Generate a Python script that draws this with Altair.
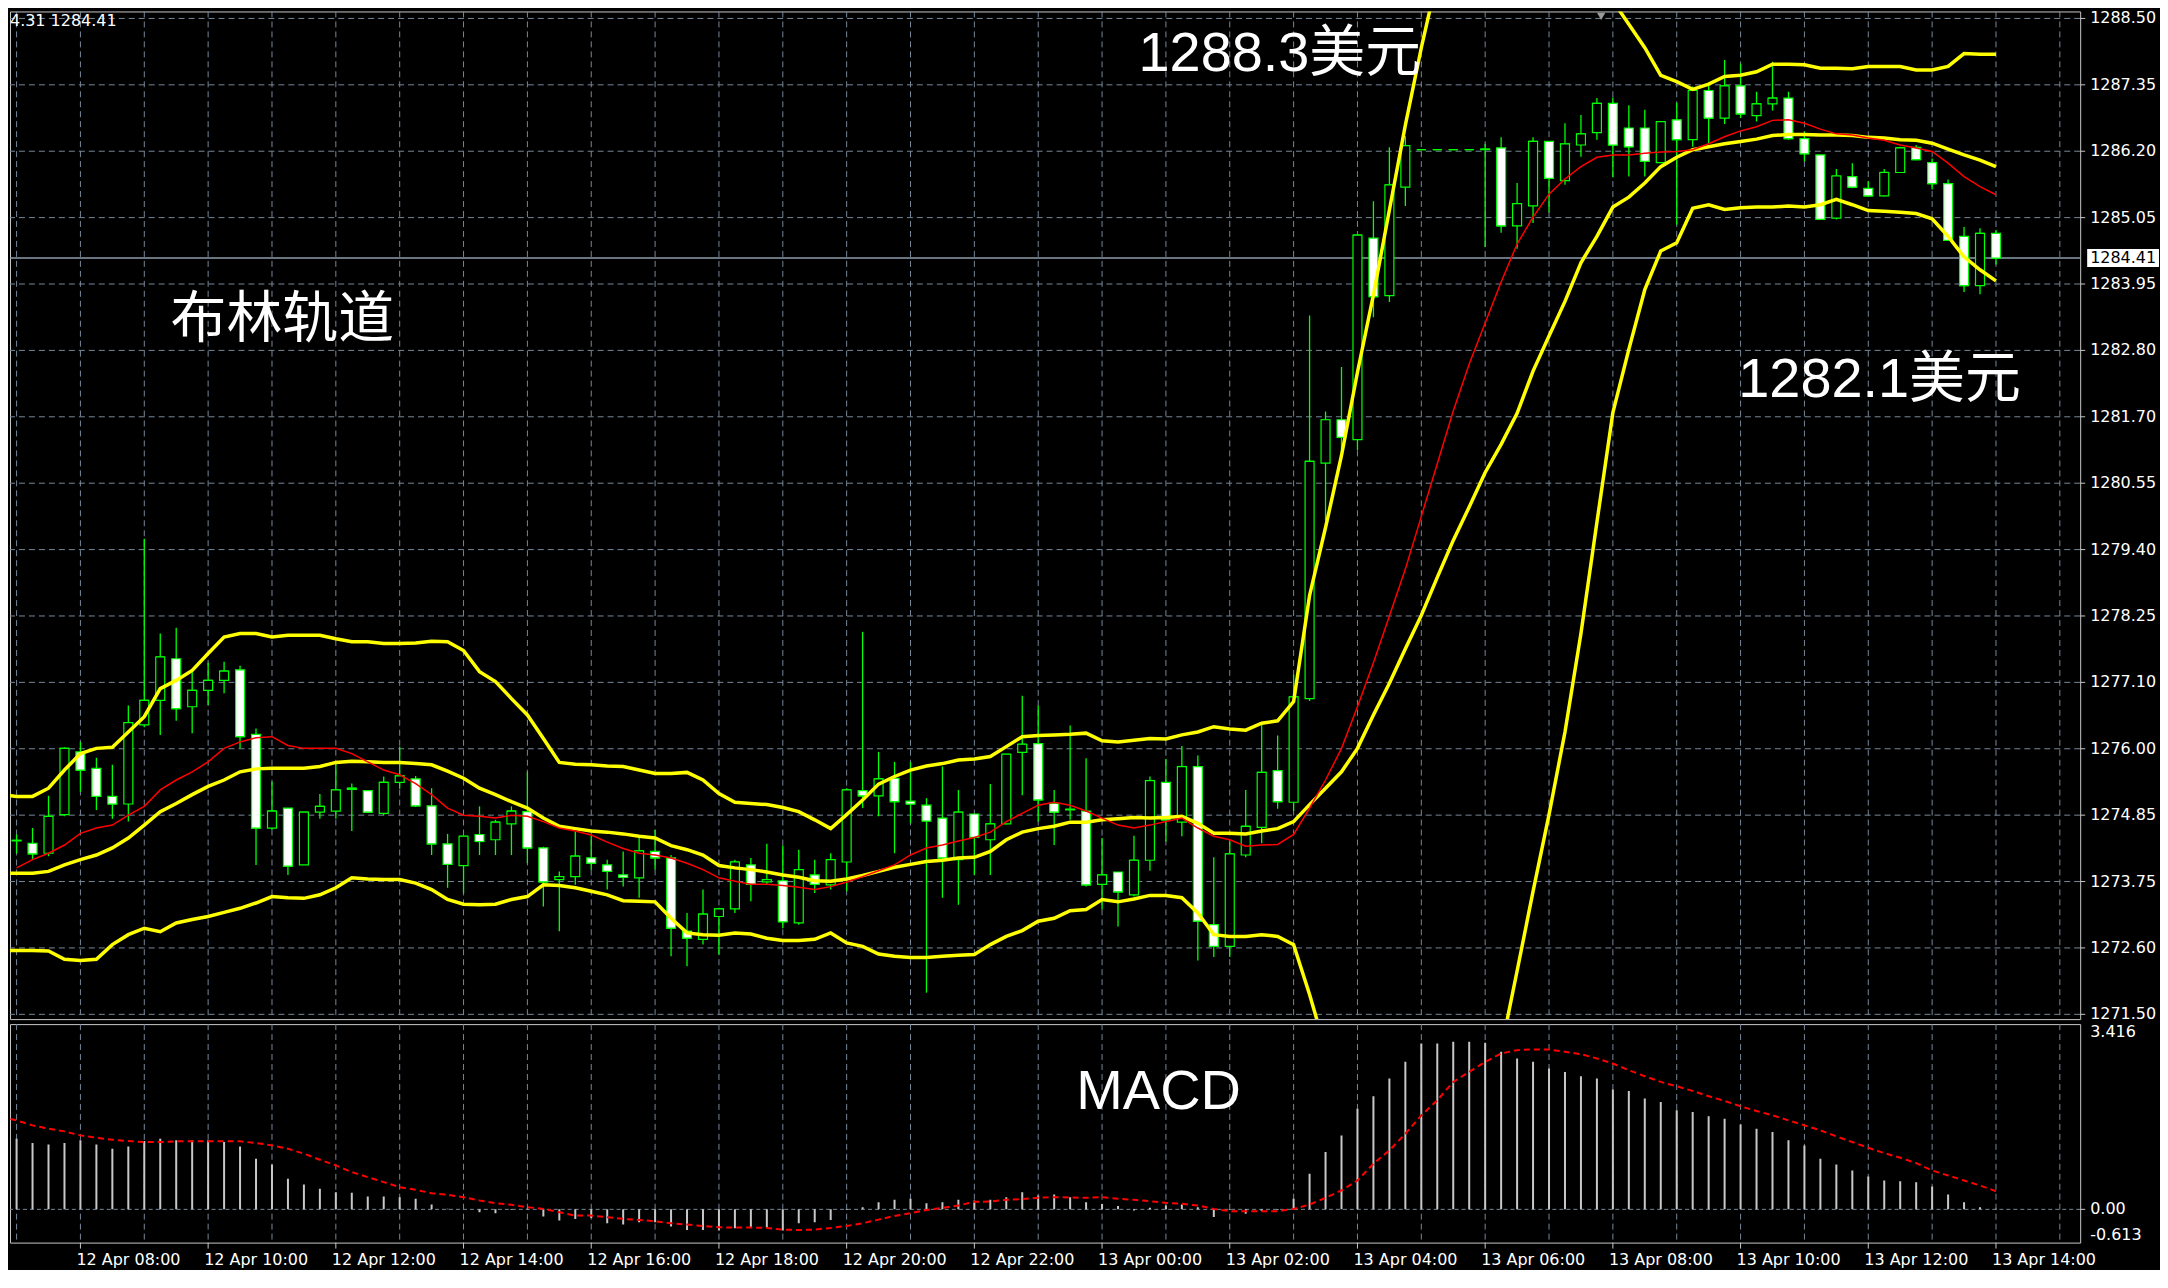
import altair as alt
import pandas as pd

# ---------------- data (XAUUSD, M15) ----------------
first_bar = "2017-04-12 06:45"
bar_minutes = 15

open_ = [
    1274.75, 1274.46, 1274.42, 1274.25, 1274.91, 1275.98, 1275.70, 1275.22, 1275.09, 1276.44,
    1276.86, 1277.57, 1276.75, 1277.03, 1277.20, 1277.38, 1276.28, 1274.68, 1275.02, 1274.05,
    1274.95, 1274.97, 1275.34, 1275.32, 1274.93, 1275.46, 1275.52, 1275.06, 1274.41, 1274.04,
    1274.57, 1274.48, 1274.75, 1274.96, 1274.34, 1273.80, 1273.85, 1274.17, 1274.05, 1273.88,
    1273.83, 1274.28, 1274.17, 1272.92, 1272.78, 1273.17, 1273.30, 1274.05, 1273.76, 1273.78,
    1273.06, 1273.88, 1273.71, 1274.10, 1275.32, 1275.23, 1275.53, 1275.14, 1275.07, 1274.85,
    1274.14, 1274.92, 1274.48, 1274.75, 1275.97, 1276.12, 1275.10, 1274.99, 1274.97, 1273.72,
    1273.93, 1273.54, 1274.13, 1275.46, 1274.78, 1275.73, 1273.03, 1272.66, 1274.22, 1274.69,
    1275.66, 1275.12, 1276.89, 1280.91, 1281.65, 1281.31, 1284.75, 1283.77, 1285.62, 1286.26,
    1286.26, 1286.26, 1286.26, 1286.26, 1286.29, 1284.96, 1285.30, 1286.40, 1285.73, 1286.34,
    1286.55, 1287.05, 1286.63, 1286.63, 1286.04, 1286.77, 1286.43, 1287.27, 1286.80, 1287.35,
    1286.84, 1287.04, 1287.14, 1286.45, 1286.17, 1285.09, 1285.80, 1285.60, 1285.47, 1285.87,
    1286.30, 1286.04, 1285.68, 1284.78, 1283.94, 1284.83,
]
high_ = [
    1274.85, 1274.57, 1274.68, 1275.23, 1276.06, 1276.15, 1275.88, 1275.76, 1276.77, 1279.62,
    1278.00, 1278.10, 1277.35, 1277.50, 1277.52, 1277.45, 1276.38, 1275.47, 1275.02, 1274.95,
    1275.26, 1275.79, 1275.44, 1275.32, 1275.56, 1276.07, 1275.57, 1275.36, 1274.58, 1274.55,
    1275.05, 1274.82, 1275.05, 1275.64, 1274.36, 1273.94, 1274.62, 1274.56, 1274.14, 1274.28,
    1274.51, 1274.65, 1274.22, 1273.23, 1273.63, 1273.32, 1274.14, 1274.17, 1274.41, 1274.38,
    1274.31, 1274.14, 1274.25, 1275.36, 1278.03, 1275.98, 1275.81, 1275.81, 1275.19, 1275.73,
    1275.33, 1274.92, 1275.43, 1275.94, 1276.94, 1276.77, 1275.33, 1276.43, 1275.87, 1274.51,
    1273.93, 1274.55, 1275.56, 1275.86, 1276.08, 1275.92, 1274.18, 1274.45, 1275.33, 1276.44,
    1276.26, 1277.30, 1283.43, 1281.79, 1282.55, 1284.80, 1285.38, 1286.30, 1286.49, 1286.26,
    1286.26, 1286.26, 1286.26, 1286.36, 1286.47, 1285.69, 1286.47, 1286.40, 1286.71, 1286.85,
    1287.14, 1287.15, 1287.02, 1286.94, 1286.74, 1287.06, 1287.34, 1287.39, 1287.79, 1287.73,
    1287.25, 1287.76, 1287.25, 1286.57, 1286.17, 1285.93, 1286.03, 1285.72, 1285.93, 1286.31,
    1286.34, 1286.11, 1285.75, 1284.94, 1284.92, 1284.89,
]
low_ = [
    1274.35, 1274.25, 1274.14, 1274.20, 1274.88, 1275.30, 1274.99, 1274.84, 1274.79, 1276.40,
    1276.27, 1276.51, 1276.30, 1276.78, 1276.98, 1276.04, 1274.05, 1274.65, 1273.88, 1274.05,
    1274.84, 1274.84, 1274.63, 1274.95, 1274.90, 1275.35, 1275.04, 1274.22, 1273.66, 1273.57,
    1274.22, 1274.22, 1274.22, 1274.08, 1273.34, 1272.92, 1273.71, 1273.97, 1273.63, 1273.68,
    1273.49, 1273.97, 1272.49, 1272.32, 1272.69, 1272.52, 1273.23, 1273.43, 1273.71, 1272.97,
    1273.03, 1273.57, 1273.63, 1273.60, 1275.02, 1274.88, 1274.25, 1274.76, 1271.87, 1273.49,
    1273.37, 1273.88, 1273.88, 1274.74, 1275.24, 1274.79, 1274.39, 1274.82, 1273.68, 1273.29,
    1273.00, 1273.51, 1273.95, 1274.45, 1274.54, 1272.42, 1272.48, 1272.48, 1274.18, 1274.42,
    1275.01, 1274.97, 1276.85, 1279.93, 1281.07, 1281.13, 1283.40, 1283.66, 1285.30, 1286.26,
    1286.26, 1286.26, 1286.26, 1284.60, 1284.84, 1284.57, 1285.01, 1285.19, 1285.66, 1286.14,
    1286.43, 1285.79, 1285.80, 1285.80, 1286.03, 1284.98, 1286.31, 1286.37, 1286.70, 1286.80,
    1286.74, 1286.93, 1286.43, 1286.06, 1285.06, 1285.07, 1285.60, 1285.46, 1285.46, 1285.86,
    1286.08, 1285.58, 1284.71, 1283.83, 1283.79, 1284.30,
]
close_ = [
    1274.42, 1274.47, 1274.24, 1274.88, 1276.04, 1275.67, 1275.22, 1275.09, 1276.48, 1276.86,
    1277.60, 1276.72, 1277.03, 1277.20, 1277.36, 1276.24, 1274.68, 1274.97, 1274.03, 1274.95,
    1275.05, 1275.33, 1275.36, 1274.95, 1275.46, 1275.57, 1275.06, 1274.41, 1274.06, 1274.54,
    1274.45, 1274.78, 1274.97, 1274.34, 1273.76, 1273.85, 1274.20, 1274.08, 1273.94, 1273.84,
    1274.29, 1274.17, 1272.97, 1272.80, 1273.21, 1273.30, 1274.10, 1273.72, 1273.80, 1273.08,
    1273.97, 1273.72, 1274.14, 1275.33, 1275.23, 1275.52, 1275.13, 1275.09, 1274.80, 1274.17,
    1274.95, 1274.52, 1274.75, 1275.94, 1276.11, 1275.16, 1274.95, 1275.00, 1273.71, 1273.88,
    1273.59, 1274.13, 1275.49, 1274.82, 1275.73, 1273.09, 1272.66, 1274.24, 1274.71, 1275.63,
    1275.13, 1276.92, 1280.94, 1281.65, 1281.35, 1284.80, 1283.75, 1285.66, 1286.33, 1286.26,
    1286.26, 1286.26, 1286.26, 1286.27, 1284.96, 1285.34, 1286.40, 1285.77, 1286.36, 1286.53,
    1287.05, 1286.34, 1286.31, 1286.06, 1286.74, 1286.43, 1287.27, 1286.80, 1287.35, 1286.87,
    1287.04, 1287.14, 1286.45, 1286.19, 1285.07, 1285.81, 1285.62, 1285.47, 1285.87, 1286.29,
    1286.09, 1285.68, 1284.71, 1283.94, 1284.83, 1284.41,
]
bb_upper = [
    1275.25, 1275.22, 1275.22, 1275.36, 1275.67, 1275.95, 1276.04, 1276.06, 1276.32, 1276.58,
    1277.06, 1277.20, 1277.37, 1277.66, 1277.94, 1278.00, 1278.00, 1277.94, 1277.97, 1277.97,
    1277.97, 1277.91, 1277.86, 1277.86, 1277.83, 1277.83, 1277.84, 1277.87, 1277.86, 1277.71,
    1277.35, 1277.18, 1276.89, 1276.61, 1276.21, 1275.80, 1275.77, 1275.76, 1275.74, 1275.73,
    1275.67, 1275.61, 1275.61, 1275.63, 1275.50, 1275.27, 1275.12, 1275.10, 1275.08, 1275.03,
    1274.96, 1274.82, 1274.67, 1274.91, 1275.16, 1275.43, 1275.56, 1275.67, 1275.74, 1275.78,
    1275.84, 1275.86, 1275.90, 1276.07, 1276.24, 1276.26, 1276.27, 1276.28, 1276.30, 1276.17,
    1276.15, 1276.18, 1276.21, 1276.20, 1276.27, 1276.32, 1276.41, 1276.37, 1276.35, 1276.47,
    1276.51, 1276.84, 1278.65, 1279.81, 1281.04, 1282.46, 1283.78, 1285.23, 1286.68, 1288.00,
    1289.20, 1290.00, 1290.60, 1291.10, 1291.50, 1291.30, 1291.35, 1291.25, 1291.00, 1290.65,
    1289.70, 1288.80, 1288.40, 1288.00, 1287.53, 1287.42, 1287.29, 1287.38, 1287.51, 1287.53,
    1287.59, 1287.72, 1287.72, 1287.71, 1287.65, 1287.65, 1287.64, 1287.68, 1287.68, 1287.68,
    1287.62, 1287.62, 1287.68, 1287.90, 1287.89, 1287.89,
]
bb_middle = [
    1273.91, 1273.91, 1273.91, 1273.94, 1274.05, 1274.14, 1274.22, 1274.34, 1274.51, 1274.73,
    1274.96, 1275.10, 1275.25, 1275.39, 1275.50, 1275.64, 1275.69, 1275.70, 1275.70, 1275.70,
    1275.73, 1275.80, 1275.82, 1275.81, 1275.80, 1275.80, 1275.78, 1275.76, 1275.65, 1275.53,
    1275.36, 1275.25, 1275.13, 1275.02, 1274.85, 1274.71, 1274.67, 1274.63, 1274.61, 1274.58,
    1274.54, 1274.51, 1274.38, 1274.31, 1274.22, 1274.04, 1274.00, 1273.97, 1273.93, 1273.88,
    1273.84, 1273.78, 1273.77, 1273.81, 1273.87, 1273.94, 1274.01, 1274.06, 1274.11, 1274.13,
    1274.17, 1274.18, 1274.28, 1274.48, 1274.61, 1274.67, 1274.71, 1274.78, 1274.78, 1274.82,
    1274.84, 1274.86, 1274.85, 1274.86, 1274.88, 1274.76, 1274.59, 1274.59, 1274.58, 1274.63,
    1274.67, 1274.79, 1275.08, 1275.36, 1275.64, 1276.04, 1276.61, 1277.15, 1277.74, 1278.31,
    1278.96, 1279.59, 1280.16, 1280.75, 1281.23, 1281.76, 1282.48, 1283.08, 1283.67, 1284.33,
    1284.78, 1285.28, 1285.45, 1285.69, 1285.97, 1286.13, 1286.26, 1286.31, 1286.36, 1286.40,
    1286.44, 1286.50, 1286.52, 1286.52, 1286.51, 1286.51, 1286.50, 1286.47, 1286.46, 1286.43,
    1286.42, 1286.37, 1286.27, 1286.17, 1286.08, 1285.97,
]
bb_lower = [
    1272.59, 1272.59, 1272.59, 1272.58, 1272.44, 1272.42, 1272.44, 1272.69, 1272.86, 1272.97,
    1272.91, 1273.06, 1273.12, 1273.17, 1273.24, 1273.31, 1273.40, 1273.51, 1273.49, 1273.48,
    1273.54, 1273.66, 1273.83, 1273.81, 1273.80, 1273.80, 1273.74, 1273.63, 1273.46, 1273.38,
    1273.37, 1273.38, 1273.46, 1273.51, 1273.71, 1273.70, 1273.66, 1273.60, 1273.54, 1273.44,
    1273.43, 1273.42, 1273.14, 1272.89, 1272.86, 1272.85, 1272.89, 1272.87, 1272.80, 1272.76,
    1272.76, 1272.78, 1272.89, 1272.72, 1272.66, 1272.53, 1272.49, 1272.47, 1272.47, 1272.49,
    1272.51, 1272.52, 1272.69, 1272.83, 1272.93, 1273.09, 1273.14, 1273.27, 1273.29, 1273.46,
    1273.42, 1273.47, 1273.53, 1273.53, 1273.49, 1273.23, 1272.86, 1272.83, 1272.83, 1272.86,
    1272.83, 1272.69, 1271.84, 1270.90, 1270.20, 1269.60, 1269.40, 1269.10, 1268.80, 1268.60,
    1268.80, 1269.20, 1269.70, 1270.40, 1270.90, 1272.24, 1273.60, 1274.91, 1276.32, 1278.00,
    1279.90, 1281.77, 1282.85, 1283.87, 1284.53, 1284.67, 1285.26, 1285.32, 1285.24, 1285.27,
    1285.28, 1285.28, 1285.30, 1285.28, 1285.32, 1285.41, 1285.32, 1285.22, 1285.21, 1285.19,
    1285.17, 1285.08, 1284.78, 1284.43, 1284.21, 1284.02,
]
ma_red = [
    None, 1274.00, 1274.14, 1274.25, 1274.39, 1274.59, 1274.68, 1274.73, 1274.90, 1275.05,
    1275.33, 1275.50, 1275.64, 1275.81, 1276.04, 1276.15, 1276.22, 1276.24, 1276.09, 1276.04,
    1276.04, 1276.04, 1275.95, 1275.81, 1275.67, 1275.59, 1275.44, 1275.25, 1275.02, 1274.90,
    1274.88, 1274.85, 1274.90, 1274.88, 1274.79, 1274.68, 1274.63, 1274.56, 1274.44, 1274.33,
    1274.25, 1274.22, 1274.17, 1274.08, 1273.97, 1273.83, 1273.77, 1273.72, 1273.72, 1273.70,
    1273.67, 1273.63, 1273.68, 1273.76, 1273.85, 1273.95, 1274.05, 1274.22, 1274.34, 1274.39,
    1274.46, 1274.52, 1274.61, 1274.79, 1274.93, 1275.07, 1275.12, 1275.07, 1274.97, 1274.85,
    1274.73, 1274.68, 1274.73, 1274.79, 1274.85, 1274.68, 1274.54, 1274.48, 1274.37, 1274.39,
    1274.40, 1274.57, 1275.02, 1275.50, 1276.04, 1276.75, 1277.50, 1278.30, 1279.10, 1280.00,
    1280.90, 1281.80, 1282.60, 1283.30, 1284.00, 1284.65, 1285.11, 1285.50, 1285.76, 1285.97,
    1286.13, 1286.17, 1286.17, 1286.20, 1286.22, 1286.23, 1286.26, 1286.36, 1286.48, 1286.58,
    1286.65, 1286.76, 1286.77, 1286.71, 1286.61, 1286.53, 1286.51, 1286.46, 1286.42, 1286.34,
    1286.29, 1286.23, 1286.03, 1285.80, 1285.63, 1285.49,
]
macd_main = [
    1.425, 1.303, 1.223, 1.198, 1.223, 1.272, 1.198, 1.118, 1.161, 1.260,
    1.303, 1.272, 1.272, 1.272, 1.241, 1.161, 0.933, 0.828, 0.564, 0.459,
    0.379, 0.317, 0.305, 0.237, 0.237, 0.225, 0.194, 0.089, 0.009, 0.000,
    -0.053, -0.071, -0.010, 0.010, -0.132, -0.207, -0.176, -0.158, -0.256, -0.281,
    -0.238, -0.238, -0.318, -0.380, -0.380, -0.392, -0.349, -0.330, -0.330, -0.392,
    -0.256, -0.238, -0.195, -0.010, 0.040, 0.132, 0.175, 0.194, 0.114, 0.132,
    0.175, 0.163, 0.175, 0.225, 0.317, 0.255, 0.274, 0.225, 0.132, 0.100,
    0.060, -0.020, 0.030, 0.070, 0.090, 0.040, -0.140, -0.010, -0.080, -0.030,
    -0.010, 0.194, 0.656, 1.056, 1.364, 1.857, 2.085, 2.412, 2.720, 3.059,
    3.059, 3.089, 3.089, 3.071, 2.904, 2.781, 2.720, 2.597, 2.535, 2.455,
    2.412, 2.208, 2.183, 2.042, 1.980, 1.826, 1.795, 1.715, 1.672, 1.567,
    1.487, 1.426, 1.272, 1.179, 0.933, 0.828, 0.717, 0.606, 0.532, 0.520,
    0.501, 0.421, 0.274, 0.132, 0.039, 0.009,
]
macd_signal = [
    1.703, 1.641, 1.549, 1.487, 1.438, 1.364, 1.321, 1.284, 1.260, 1.241,
    1.241, 1.254, 1.254, 1.254, 1.254, 1.254, 1.223, 1.180, 1.118, 1.026,
    0.915, 0.810, 0.687, 0.594, 0.502, 0.410, 0.360, 0.299, 0.268, 0.225,
    0.163, 0.114, 0.083, 0.040, 0.009, -0.053, -0.115, -0.115, -0.145, -0.176,
    -0.195, -0.219, -0.256, -0.281, -0.306, -0.330, -0.336, -0.336, -0.343, -0.373,
    -0.380, -0.373, -0.343, -0.306, -0.256, -0.189, -0.121, -0.071, -0.010, 0.028,
    0.071, 0.139, 0.145, 0.175, 0.188, 0.213, 0.225, 0.219, 0.213, 0.224,
    0.194, 0.175, 0.151, 0.120, 0.102, 0.071, 0.009, -0.034, -0.034, -0.034,
    -0.034, 0.009, 0.089, 0.213, 0.348, 0.532, 0.841, 1.087, 1.395, 1.734,
    2.011, 2.350, 2.535, 2.720, 2.874, 2.936, 2.948, 2.948, 2.905, 2.862,
    2.782, 2.689, 2.566, 2.455, 2.350, 2.270, 2.184, 2.085, 1.999, 1.900,
    1.814, 1.734, 1.641, 1.549, 1.457, 1.346, 1.241, 1.136, 1.038, 0.952,
    0.853, 0.717, 0.625, 0.532, 0.440, 0.335,
]

price_tick_labels = ["1288.50", "1287.35", "1286.20", "1285.05", "1283.95", "1282.80",
                     "1281.70", "1280.55", "1279.40", "1278.25", "1277.10", "1276.00",
                     "1274.85", "1273.75", "1272.60", "1271.50"]
price_grid_top, price_grid_bottom = 1288.50, 1271.50
macd_tick_labels = ["3.416", "0.00", "-0.613"]
macd_max, macd_min = 3.416, -0.613
current_price = 1284.41
current_price_label = "1284.41"
header_text = "4.31 1284.41"

annotation_text = ["布林轨道", "1288.3美元", "1282.1美元"]
annotation_time = ["2017-04-12 09:24:45", "2017-04-13 00:34:15", "2017-04-13 09:57:50"]
annotation_price = [1283.07, 1287.60, 1282.03]
macd_title, macd_title_time, macd_title_value = "MACD", "2017-04-12 23:35:50", 1.85
shift_marker_time = "2017-04-13 07:49:00"

grid_hours = pd.date_range("2017-04-12 07:00", "2017-04-13 15:00", freq="1h")
label_hours = pd.date_range("2017-04-12 08:00", "2017-04-13 14:00", freq="2h")
time_labels = [h.strftime("%d %b %H:%M") for h in label_hours]

# ---------------- layout / style ----------------
W, H_MAIN, H_MACD = 2075, 1010, 219
PX_PER_BAR = 16.0
PX_PER_USD = 998.2 / 17.0
LIME, YELLOW, RED = "#00ff00", "#ffff00", "#ff0000"
GRID = "#778899"
FRAME = "#c8c8c8"
AXFONT = "DejaVu Sans"
AXSIZE = 16
BIGFONT = "Liberation Sans, Noto Sans CJK SC"

for arr in (open_, high_, low_, close_, bb_upper, bb_middle, bb_lower, ma_red, macd_main, macd_signal):
    assert len(arr) == len(close_)


def to_ms(ts):
    return int(pd.Timestamp(ts).value // 1_000_000)


t0 = to_ms(first_bar)
bar_ms = bar_minutes * 60_000
df = pd.DataFrame({
    "t": [t0 + i * bar_ms for i in range(len(close_))],
    "open": open_, "high": high_, "low": low_, "close": close_,
    "bb_up": bb_upper, "bb_mid": bb_middle, "bb_lo": bb_lower,
    "ma": ma_red, "macd": macd_main, "signal": macd_signal,
})
df["zero"] = 0.0

x_start = t0 + 0.5875 * bar_ms
x_end = x_start + (W / PX_PER_BAR) * bar_ms
xs = alt.Scale(type="utc", domain=[x_start, x_end], nice=False)

y_top = price_grid_top + 7.0 / PX_PER_USD
y_bot = y_top - H_MAIN / PX_PER_USD
ys = alt.Scale(domain=[y_bot, y_top], nice=False, zero=False)
ms_scale = alt.Scale(domain=[macd_min, macd_max], nice=False, zero=False)

X = alt.X("t:T", scale=xs, axis=None)


def Yp(field):
    return alt.Y(field, scale=ys, axis=None)


def Ym(field):
    return alt.Y(field, scale=ms_scale, axis=None)


grid_df = pd.DataFrame({"t": [to_ms(h) for h in grid_hours]})
grid_v = alt.Chart(grid_df).mark_rule(color=GRID, strokeWidth=1, strokeDash=[6, 4]).encode(x=X)

# price scale: evenly spaced grid lines, labels as printed on the chart
n_ticks = len(price_tick_labels)
step = (price_grid_top - price_grid_bottom) / (n_ticks - 1)
ptick_df = pd.DataFrame({
    "p": [price_grid_top - k * step for k in range(n_ticks)],
    "label": price_tick_labels,
})
grid_h = alt.Chart(ptick_df).mark_rule(color=GRID, strokeWidth=1, strokeDash=[6, 4]).encode(y=Yp("p:Q"))
p_ticks = alt.Chart(ptick_df).mark_rule(color=FRAME, strokeWidth=1).encode(
    y=Yp("p:Q"), x=alt.value(W), x2=alt.value(W + 5))
p_labels = alt.Chart(ptick_df).mark_text(
    align="left", baseline="middle", font=AXFONT, fontSize=AXSIZE, color="#ffffff"
).encode(x=alt.value(W + 10), y=Yp("p:Q"), text="label:N")

base = alt.Chart(df)

cur_df = pd.DataFrame({"p": [current_price], "label": [current_price_label]})
cur_line = alt.Chart(cur_df).mark_rule(color="#8c9cac", strokeWidth=1.5).encode(y=Yp("p:Q"))

wicks = base.mark_rule(color=LIME, strokeWidth=1.3, clip=True).encode(
    x=X, y=Yp("low:Q"), y2="high:Q")

close_ticks = base.mark_rule(color=LIME, strokeWidth=1.3, xOffset=-4.5, x2Offset=4.5, clip=True).encode(
    x=X, x2="t:T", y=Yp("close:Q"))

bodies = base.mark_rect(stroke=LIME, strokeWidth=1.2, xOffset=-4.5, x2Offset=4.5, clip=True).encode(
    x=X, x2="t:T",
    y=Yp("open:Q"), y2="close:Q",
    fill=alt.condition("datum.close < datum.open", alt.value("#ffffff"), alt.value("#000000")),
)


def band(col, color, width):
    return base.mark_line(color=color, strokeWidth=width, clip=True).encode(x=X, y=Yp(f"{col}:Q"))


upper = band("bb_up", YELLOW, 3.5)
middle = band("bb_mid", YELLOW, 3.5)
lower = band("bb_lo", YELLOW, 3.5)
ma_line = band("ma", RED, 1.5)

ann_df = pd.DataFrame({
    "t": [to_ms(t) for t in annotation_time],
    "p": annotation_price,
    "txt": annotation_text,
})
ann = alt.Chart(ann_df).mark_text(
    align="left", baseline="alphabetic", fontSize=56, font=BIGFONT, color="#ffffff"
).encode(x=X, y=Yp("p:Q"), text="txt:N")

header = alt.Chart(pd.DataFrame({"s": [header_text]})).mark_text(
    align="left", baseline="alphabetic", fontSize=AXSIZE, font=AXFONT, color="#ffffff"
).encode(x=alt.value(0), y=alt.value(15), text="s:N")

marker = alt.Chart(pd.DataFrame({"t": [to_ms(shift_marker_time)]})).mark_point(
    shape="triangle-down", size=70, filled=True, color="#9a9a9a", opacity=1
).encode(x=X, y=alt.value(5))

BOX = "M-1,-0.25L1,-0.25L1,0.25L-1,0.25Z"
price_box = alt.Chart(cur_df).mark_point(
    shape=BOX, size=72 * 72, filled=True, color="#ffffff", opacity=1, strokeWidth=0
).encode(x=alt.value(W + 43), y=Yp("p:Q"))
price_box_text = alt.Chart(cur_df).mark_text(
    align="left", baseline="middle", fontSize=AXSIZE, font=AXFONT, color="#000000"
).encode(x=alt.value(W + 10), y=Yp("p:Q"), text="label:N")

main = alt.layer(
    grid_v, grid_h, cur_line, wicks, close_ticks, bodies, upper, middle, lower, ma_line,
    ann, header, marker, p_ticks, p_labels, price_box, price_box_text,
).properties(width=W, height=H_MAIN)

# ---------------- MACD panel ----------------
zero_line = alt.Chart(pd.DataFrame({"v": [0.0]})).mark_rule(
    color=GRID, strokeWidth=1, strokeDash=[4, 3]
).encode(y=Ym("v:Q"))

hist = base.mark_rule(color="#c8c8c8", strokeWidth=2, clip=True).encode(
    x=X, y=Ym("macd:Q"), y2="zero:Q")

sig = base.mark_line(color=RED, strokeWidth=2, strokeDash=[6, 4], clip=True).encode(
    x=X, y=Ym("signal:Q"))

macd_txt = alt.Chart(pd.DataFrame({
    "t": [to_ms(macd_title_time)], "v": [macd_title_value], "s": [macd_title]
})).mark_text(
    align="left", baseline="alphabetic", fontSize=56, font=BIGFONT, color="#ffffff"
).encode(x=X, y=Ym("v:Q"), text="s:N")


def macd_label(value, text, baseline):
    return alt.Chart(pd.DataFrame({"v": [value], "s": [text]})).mark_text(
        align="left", baseline=baseline, font=AXFONT, fontSize=AXSIZE, color="#ffffff"
    ).encode(x=alt.value(W + 10), y=Ym("v:Q"), text="s:N")


m_top = macd_label(macd_max, macd_tick_labels[0], "top")
m_mid = macd_label(0.0, macd_tick_labels[1], "middle")
m_bot = macd_label(macd_min, macd_tick_labels[2], "bottom")
m_tick = alt.Chart(pd.DataFrame({"v": [0.0]})).mark_rule(color=FRAME).encode(
    y=Ym("v:Q"), x=alt.value(W), x2=alt.value(W + 5))

xlab_df = pd.DataFrame({"t": [to_ms(h) for h in label_hours], "label": time_labels})
x_ticks = alt.Chart(xlab_df).mark_rule(color=FRAME, strokeWidth=1).encode(
    x=X, y=alt.value(H_MACD), y2=alt.value(H_MACD + 6))
x_labels = alt.Chart(xlab_df).mark_text(
    align="left", baseline="top", dx=-4, font=AXFONT, fontSize=AXSIZE, color="#ffffff"
).encode(x=X, y=alt.value(H_MACD + 9), text="label:N")

macd = alt.layer(
    grid_v, zero_line, hist, sig, macd_txt, m_top, m_mid, m_bot, m_tick, x_ticks, x_labels
).properties(width=W, height=H_MACD)

chart = alt.vconcat(main, macd, spacing=5, bounds="flush").properties(
    background="#000000", padding=0
).configure_view(
    stroke=FRAME, strokeWidth=1
)

chart.save("out.html", embed_options={"renderer": "svg", "actions": False})
